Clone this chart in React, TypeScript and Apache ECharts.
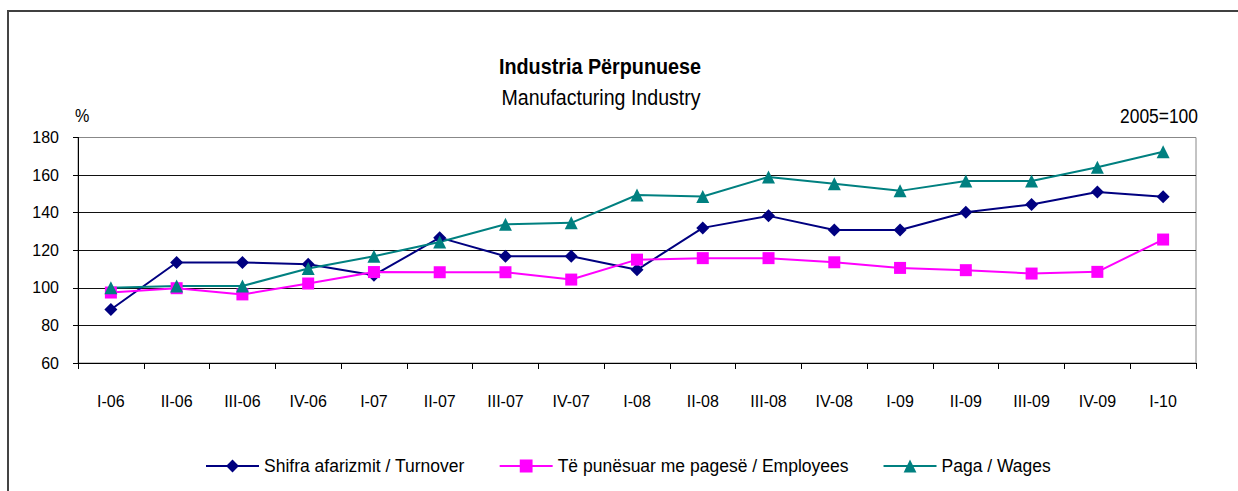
import React, { useEffect, useRef } from "react";
import * as echarts from "echarts";

const categories = ["I-06", "II-06", "III-06", "IV-06", "I-07", "II-07", "III-07", "IV-07", "I-08", "II-08", "III-08", "IV-08", "I-09", "II-09", "III-09", "IV-09", "I-10"];
const turnover = [88.5, 113.5, 113.5, 112.6, 106.7, 126.7, 116.8, 116.8, 109.6, 131.9, 138.3, 130.8, 130.8, 140.2, 144.4, 151, 148.5];
const employees = [97.5, 99.8, 96.5, 102.3, 108.4, 108.3, 108.3, 104.4, 115, 115.8, 115.8, 113.6, 110.6, 109.4, 107.6, 108.5, 125.7];
const wages = [100, 101, 101, 110.3, 116.8, 124.4, 133.8, 134.6, 149.4, 148.6, 159, 155.4, 151.6, 156.8, 156.8, 164.2, 172.4];
const seriesNames = ["Shifra afarizmit / Turnover", "Të punësuar me pagesë / Employees", "Paga / Wages"];
const titleText = "Industria Përpunuese";
const subtitleText = "Manufacturing Industry";
const unitLeft = "%";
const unitRight = "2005=100";

const FONT = "'Liberation Sans', Arial, sans-serif";

export default function App() {
  const ref = useRef<HTMLDivElement>(null);
  useEffect(() => {
    if (!ref.current) return;
    const chart = echarts.init(ref.current, null, { renderer: "svg" });
    chart.setOption({
      animation: false,
      backgroundColor: "#fff",
      grid: { left: 78, right: 42, top: 137.5, bottom: 128, show: true, borderColor: "#888", borderWidth: 1, backgroundColor: "transparent" },
      legend: {
        left: 200,
        top: 452,
        itemWidth: 53,
        itemHeight: 16,
        itemGap: 34,
        textStyle: { fontFamily: FONT, fontSize: 17.5, color: "#000" },
        data: seriesNames,
      },
      xAxis: {
        type: "category",
        data: categories,
        boundaryGap: true,
        axisLine: { lineStyle: { color: "#000", width: 1 } },
        axisTick: { show: true, length: 6, interval: 0, lineStyle: { color: "#000" } },
        axisLabel: { interval: 0, margin: 28, fontFamily: FONT, fontSize: 16, lineHeight: 20, color: "#000" },
        splitLine: { show: false },
      },
      yAxis: {
        type: "value",
        min: 60,
        max: 180,
        interval: 20,
        axisLine: { show: true, lineStyle: { color: "#000", width: 1 } },
        axisTick: { show: true, length: 5, lineStyle: { color: "#000" } },
        axisLabel: { margin: 19, fontFamily: FONT, fontSize: 16, color: "#000" },
        splitLine: { show: true, lineStyle: { color: ["#000", "#111", "#111", "#111", "#111", "#111", "#888"], width: 1 } },
      },
      series: [
        {
          name: seriesNames[0], type: "line", data: turnover, symbol: "diamond", symbolSize: 13,
          lineStyle: { color: "#000080", width: 2 }, itemStyle: { color: "#000080" },
        },
        {
          name: seriesNames[1], type: "line", data: employees, symbol: "rect", symbolSize: 12,
          lineStyle: { color: "#FF00FF", width: 2 }, itemStyle: { color: "#FF00FF" },
        },
        {
          name: seriesNames[2], type: "line", data: wages, symbol: "triangle", symbolSize: 13,
          lineStyle: { color: "#008080", width: 2 }, itemStyle: { color: "#008080" },
        },
      ],
      graphic: [
        { type: "line", shape: { x1: 7, y1: 11, x2: 1238, y2: 11 }, style: { stroke: "#000", lineWidth: 1.5 } },
        { type: "line", shape: { x1: 8, y1: 11, x2: 8, y2: 491 }, style: { stroke: "#444", lineWidth: 2 } },
        { type: "text", x: 600, y: 66, scaleX: 0.9, style: { text: titleText, fontFamily: FONT, fontWeight: "bold", fontSize: 22, fill: "#000", textAlign: "center", textVerticalAlign: "middle" } },
        { type: "text", x: 601, y: 97, scaleX: 0.89, style: { text: subtitleText, fontFamily: FONT, fontSize: 22, fill: "#000", textAlign: "center", textVerticalAlign: "middle" } },
        { type: "text", x: 75, y: 116, scaleX: 0.85, style: { text: unitLeft, fontFamily: FONT, fontSize: 19, fill: "#000", textAlign: "left", textVerticalAlign: "middle" } },
        { type: "text", x: 1198, y: 116, scaleX: 0.85, style: { text: unitRight, fontFamily: FONT, fontSize: 20.5, fill: "#000", textAlign: "right", textVerticalAlign: "middle" } },
      ],
    });
    return () => chart.dispose();
  }, []);
  return <div ref={ref} style={{ position: "absolute", left: 0, top: 0, width: 1238, height: 491 }} />;
}
